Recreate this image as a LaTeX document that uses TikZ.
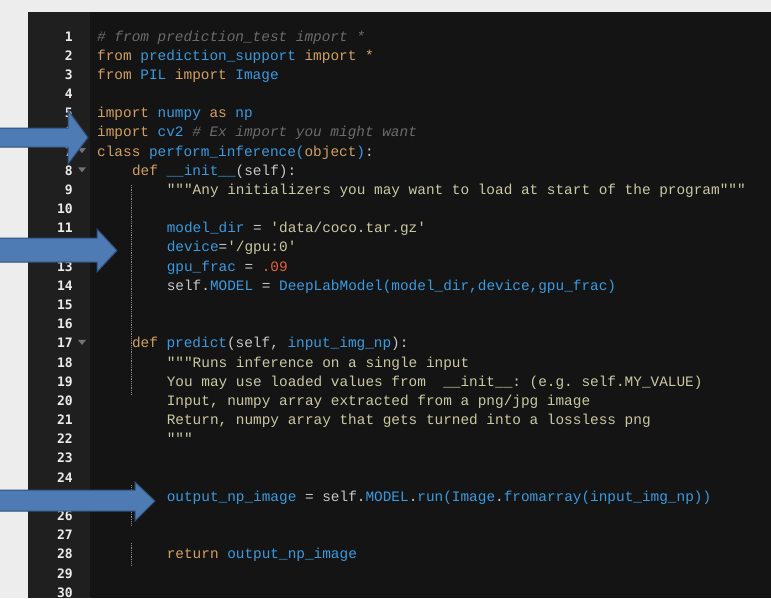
\documentclass[tikz,border=0pt]{standalone}
\usepackage{fontspec}
\setmonofont{Liberation Mono}
\newfontfamily\numfont{DejaVu Sans Mono}
\definecolor{kw}{HTML}{D3A060}
\definecolor{bl}{HTML}{3A9AE0}
\definecolor{cm}{HTML}{6B6B6B}
\definecolor{st}{HTML}{C9C9A3}
\definecolor{nu}{HTML}{E2603F}
\definecolor{df}{HTML}{C8C8C8}
\definecolor{arrowfill}{HTML}{4F7BB5}
\definecolor{arrowline}{HTML}{2F4E7A}
\newcommand{\K}[1]{\textcolor{kw}{#1}}
\newcommand{\B}[1]{\textcolor{bl}{#1}}
\newcommand{\C}[1]{\textcolor{cm}{\itshape #1}}
\newcommand{\Sg}[1]{\textcolor{st}{#1}}
\newcommand{\N}[1]{\textcolor{nu}{#1}}
\newcommand{\sq}{\char"0027\relax}
\newcommand{\dq}{\char"0022\relax\char"0022\relax\char"0022\relax}
\begin{document}
\begin{tikzpicture}[x=1pt,y=-1pt,
  code/.style={anchor=base west,inner sep=0pt,font=\ttfamily\fontsize{14.4}{16}\selectfont,text=df},
  lnum/.style={anchor=base east,inner sep=0pt,font=\numfont\bfseries\fontsize{13}{15}\selectfont,text=white!92!black},
  blockarrow/.style={fill=arrowfill,draw=arrowline,line width=1pt,line join=miter}]
\useasboundingbox (0,0) rectangle (771,598);
\fill[black!7] (0,0) rectangle (771,598);
\fill[black!88] (28,12) rectangle (771,598);
\fill[black!92] (90,12) rectangle (771,598);
\foreach \n in {1,...,30}{
  \node[lnum] (ln\n) at (73,{41+19.18*(\n-1)}) {\n};
}
\foreach \n in {7,8,17}{
  \fill[black!55] (78,{33+19.18*(\n-1)}) -- (86,{33+19.18*(\n-1)}) -- (82,{38+19.18*(\n-1)}) -- cycle;
}
\draw[black!45,densely dotted,line width=0.8pt] (131,185) -- (131,395);
\draw[black!45,densely dotted,line width=0.8pt] (131,485) -- (131,525);
\draw[black!45,densely dotted,line width=0.8pt] (131,543) -- (131,565);
\def\Y#1{{41+19.18*(#1-1)}}
\node[code] (c1) at (97,\Y{1}) {\C{\# from prediction\_test import *}};
\node[code] (c2) at (97,\Y{2}) {\K{from} \B{prediction\_support} \K{import *}};
\node[code] (c3) at (97,\Y{3}) {\K{from} \B{PIL} \K{import} \B{Image}};
\node[code] (c5) at (97,\Y{5}) {\K{import} \B{numpy} \K{as} \B{np}};
\node[code] (c6) at (97,\Y{6}) {\K{import} \B{cv2} \C{\# Ex import you might want}};
\node[code] (c7) at (97,\Y{7}) {\K{class} \B{perform\_inference(}\K{object}\B{)}:};
\node[code] (c8) at (131.8,\Y{8}) {\K{def} \B{\_\_init\_\_}(self):};
\node[code] (c9) at (166.6,\Y{9}) {\Sg{\dq Any initializers you may want to load at start of the program\dq}};
\node[code] (c11) at (166.6,\Y{11}) {\B{model\_dir} = \Sg{\sq data/coco.tar.gz\sq}};
\node[code] (c12) at (166.6,\Y{12}) {\B{device}=\Sg{\sq/gpu:0\sq}};
\node[code] (c13) at (166.6,\Y{13}) {\B{gpu\_frac} = \N{.09}};
\node[code] (c14) at (166.6,\Y{14}) {self.\B{MODEL} = \B{DeepLabModel(model\_dir,device,gpu\_frac)}};
\node[code] (c17) at (131.8,\Y{17}) {\K{def} \B{predict}(self, \B{input\_img\_np}):};
\node[code] (c18) at (166.6,\Y{18}) {\Sg{\dq Runs inference on a single input}};
\node[code] (c19) at (166.6,\Y{19}) {\Sg{You may use loaded values from \ \_\_init\_\_: (e.g. self.MY\_VALUE)}};
\node[code] (c20) at (166.6,\Y{20}) {\Sg{Input, numpy array extracted from a png/jpg image}};
\node[code] (c21) at (166.6,\Y{21}) {\Sg{Return, numpy array that gets turned into a lossless png}};
\node[code] (c22) at (166.6,\Y{22}) {\Sg{\dq}};
\node[code] (c25) at (166.6,\Y{25}) {\B{output\_np\_image} = self.\B{MODEL}.\B{run(Image}.\B{fromarray(input\_img\_np))}};
\node[code] (c28) at (166.6,\Y{28}) {\K{return} \B{output\_np\_image}};
% block arrows
\draw[blockarrow] (-2,128) -- (68,128) -- (68,110) -- (88,137.5) -- (68,164) -- (68,147) -- (-2,147) -- cycle;
\draw[blockarrow] (-2,238) -- (97,238) -- (97,229) -- (117,250.5) -- (97,272) -- (97,262) -- (-2,262) -- cycle;
\draw[blockarrow] (-2,490) -- (135,490) -- (135,482) -- (155,501) -- (135,521) -- (135,511) -- (-2,511) -- cycle;
\end{tikzpicture}
\end{document}
